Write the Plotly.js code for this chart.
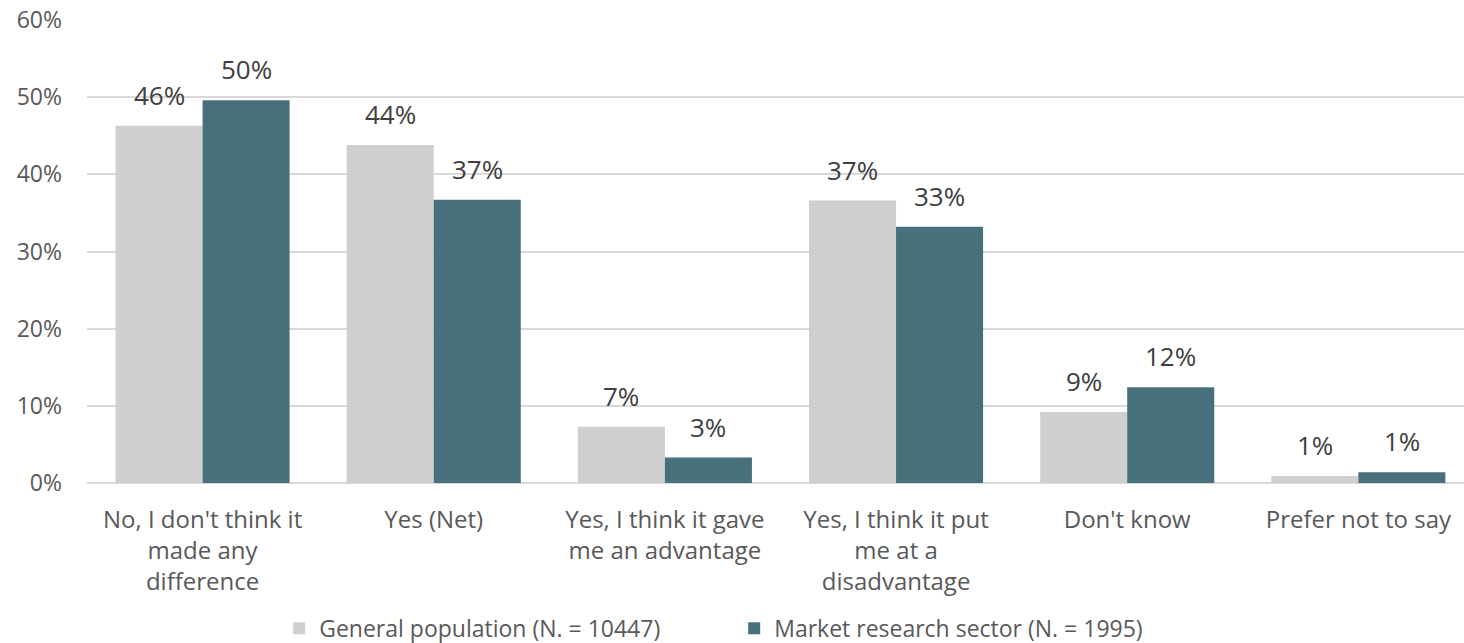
<!DOCTYPE html>
<html>
<head>
<meta charset="utf-8">
<script src="https://cdn.plot.ly/plotly-3.0.1.min.js"></script>
<style>html,body{margin:0;padding:0;background:#fff;}#chart{width:1464px;height:643px;}</style>
</head>
<body>
<div id="chart"></div>
<script>
const categories = [
  "No, I don't think it<br>made any<br>difference",
  "Yes (Net)",
  "Yes, I think it gave<br>me an advantage",
  "Yes, I think it put<br>me at a<br>disadvantage",
  "Don't know",
  "Prefer not to say"
];
const generalPopulation = [0.463, 0.438, 0.073, 0.366, 0.092, 0.009];
const marketResearch = [0.496, 0.367, 0.033, 0.332, 0.124, 0.014];
const generalLabels = ["46%", "44%", "7%", "37%", "9%", "1%"];
const marketLabels = ["50%", "37%", "3%", "33%", "12%", "1%"];
const seriesNames = ["General population (N. = 10447)", "Market research sector (N. = 1995)"];

const FONT = "'Open Sans', sans-serif";

const traces = [
  {type: 'bar', name: seriesNames[0], x: categories, y: generalPopulation,
   marker: {color: '#D0CECE'}, hoverinfo: 'none'},
  {type: 'bar', name: seriesNames[1], x: categories, y: marketResearch,
   marker: {color: '#47707D'}, hoverinfo: 'none'}
];

const annotations = [];
const off = 43.5;
categories.forEach((c, i) => {
  annotations.push({x: c, y: generalPopulation[i], text: generalLabels[i], xref: 'x', yref: 'y',
    showarrow: false, xshift: -off, yshift: 11, yanchor: 'bottom',
    font: {family: FONT, size: 26, color: '#404040'}});
  annotations.push({x: c, y: marketResearch[i], text: marketLabels[i], xref: 'x', yref: 'y',
    showarrow: false, xshift: off, yshift: 11, yanchor: 'bottom',
    font: {family: FONT, size: 26, color: '#404040'}});
});

const layout = {
  width: 1464, height: 643,
  margin: {l: 87, r: 0, t: 20, b: 160, autoexpand: false},
  paper_bgcolor: '#fff', plot_bgcolor: '#fff',
  barmode: 'group', bargap: 0.247, bargroupgap: 0,
  font: {family: FONT, color: '#595959'},
  xaxis: {type: 'category', range: [-0.5, 5.457], showgrid: false, zeroline: false,
    showline: false, ticks: '', tickfont: {family: FONT, size: 24, color: '#595959'},
    ticklabelstandoff: 20, automargin: false, fixedrange: true},
  yaxis: {range: [0, 0.6], tickvals: [0, 0.1, 0.2, 0.3, 0.4, 0.5, 0.6],
    ticktext: ["0%", "10%", "20%", "30%", "40%", "50%", "60%"],
    showgrid: true, gridcolor: '#D9D9D9', gridwidth: 2, zeroline: true, zerolinecolor: '#D9D9D9', zerolinewidth: 2,
    showline: false, ticks: '', tickfont: {family: FONT, size: 23, color: '#595959'},
    ticklabelstandoff: 24, automargin: false, fixedrange: true},
  showlegend: true,
  legend: {orientation: 'h', x: 0.47, xanchor: 'center', xref: 'paper',
    y: -0.314, yanchor: 'middle', yref: 'paper',
    font: {family: FONT, size: 23, color: '#595959'}, itemwidth: 30, traceorder: 'normal',
    entrywidth: 410, entrywidthmode: 'pixels', tracegroupgap: 0},
  annotations: annotations
};

Plotly.newPlot('chart', traces, layout, {staticPlot: true, displayModeBar: false});
</script>
</body>
</html>
